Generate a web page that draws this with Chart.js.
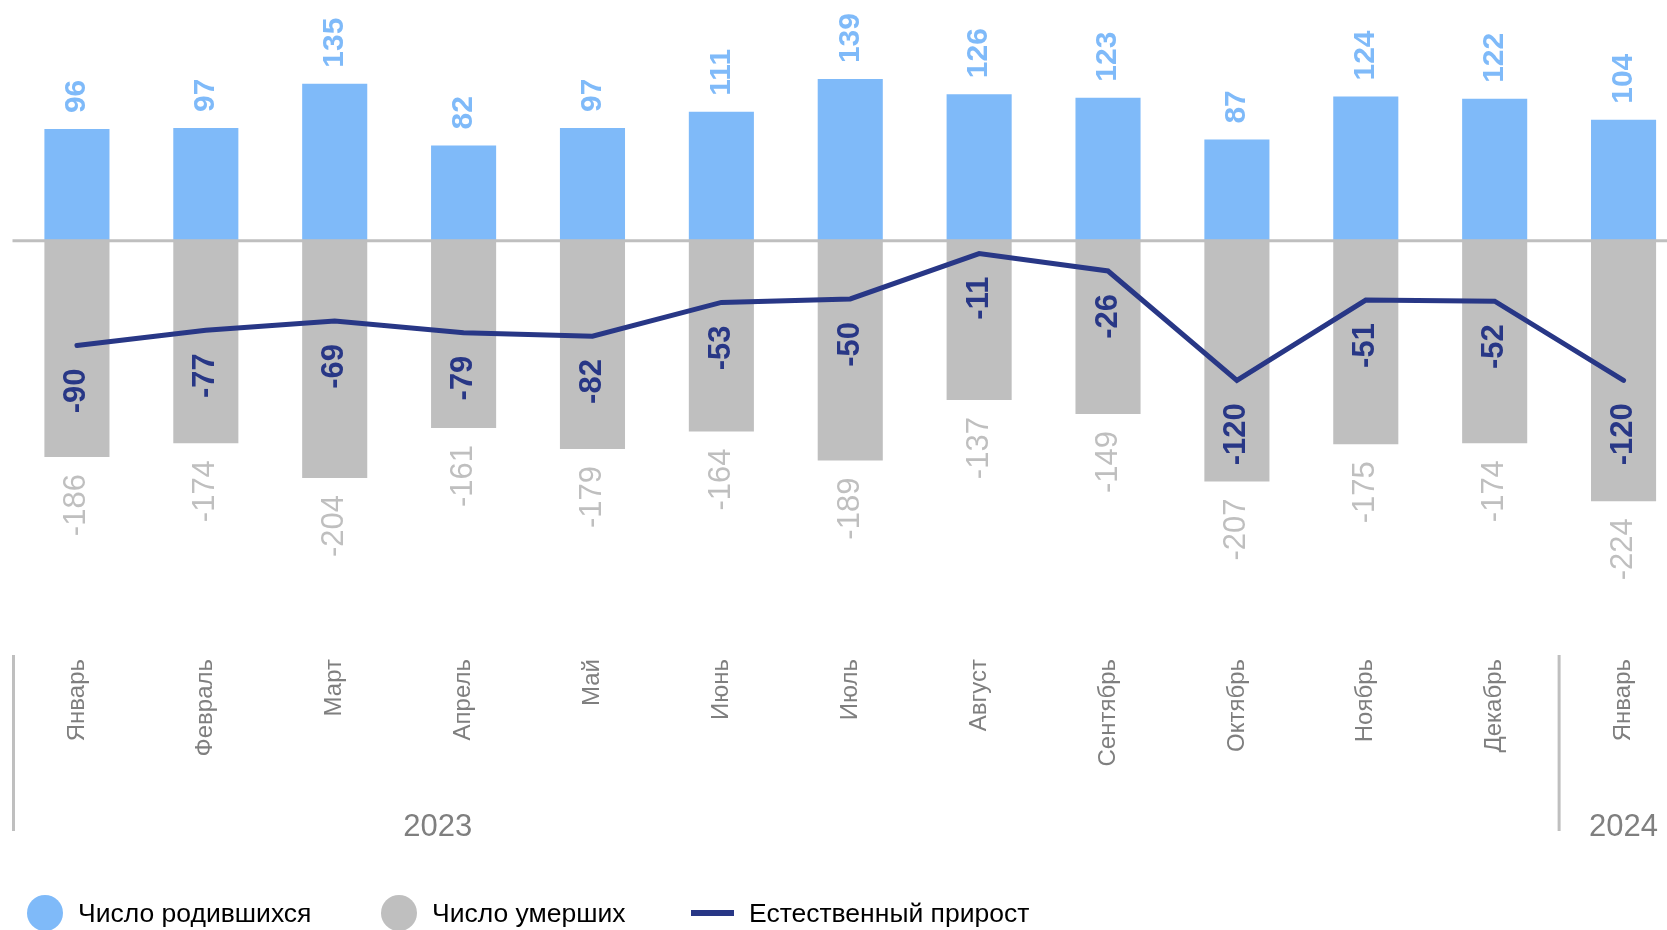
<!DOCTYPE html>
<html lang="ru">
<head>
<meta charset="utf-8">
<title>Естественное движение населения</title>
<script src="https://cdn.jsdelivr.net/npm/chart.js@4.4.1/dist/chart.umd.min.js"></script>
<style>
  html, body { margin: 0; padding: 0; background: #fff; overflow: hidden; }
  body { width: 1667px; height: 930px; position: relative; font-family: "Liberation Sans", Arial, sans-serif; }
  #wrap { position: absolute; left: 0; top: 0; width: 1688px; height: 930px; }
  .legend-item { position: absolute; top: 895px; height: 36px; display: flex; align-items: center; font-size: 26.5px; color: #000; white-space: nowrap; }
  .legend-item .dot { width: 36px; height: 36px; border-radius: 50%; margin-right: 15px; flex: none; }
  .legend-item .dash { width: 43px; height: 6px; margin-right: 15px; flex: none; }
</style>
</head>
<body>
<div id="wrap"><canvas id="popChart" width="1688" height="930"></canvas></div>
<div id="legend"></div>
<script>
const months = ['Январь', 'Февраль', 'Март', 'Апрель', 'Май', 'Июнь', 'Июль', 'Август', 'Сентябрь', 'Октябрь', 'Ноябрь', 'Декабрь', 'Январь'];
const years = ['2023', '2024'];
const yearStarts = [0, 12];
const births = [96, 97, 135, 82, 97, 111, 139, 126, 123, 87, 124, 122, 104];
const deaths = [-186, -174, -204, -161, -179, -164, -189, -137, -149, -207, -175, -174, -224];
const growth = [-90, -77, -69, -79, -82, -53, -50, -11, -26, -120, -51, -52, -120];
const seriesNames = ['Число родившихся', 'Число умерших', 'Естественный прирост'];

const BLUE = '#7fbaf9';
const GREY = '#bfbfbf';
const NAVY = '#283786';
const TEXT_GREY = '#7f7f7f';
const FONT = '"Liberation Sans", Arial, sans-serif';

// подписи, повёрнутые на 90°
function drawUp(ctx, text, x, y, color, font, align) {
  ctx.save();
  ctx.translate(x, y);
  ctx.rotate(-Math.PI / 2);
  ctx.font = font;
  ctx.fillStyle = color;
  ctx.textAlign = align;
  ctx.textBaseline = 'middle';
  ctx.fillText(text, 0, 0);
  ctx.restore();
}

const valueLabels = {
  id: 'valueLabels',
  afterDatasetsDraw(chart) {
    const ctx = chart.ctx;
    const area = chart.chartArea;
    const y0 = chart.scales.y.getPixelForValue(0);

    // нулевая линия
    ctx.save();
    ctx.strokeStyle = GREY;
    ctx.lineWidth = 3;
    ctx.beginPath();
    ctx.moveTo(area.left, y0);
    ctx.lineTo(area.right, y0);
    ctx.stroke();
    ctx.restore();

    chart.getDatasetMeta(0).data.forEach((bar, i) =>
      drawUp(ctx, String(births[i]), bar.x, bar.y - 16, BLUE, 'bold 30px ' + FONT, 'left'));
    chart.getDatasetMeta(1).data.forEach((bar, i) =>
      drawUp(ctx, String(deaths[i]), bar.x, bar.y + 17, GREY, '31px ' + FONT, 'right'));
    chart.getDatasetMeta(2).data.forEach((pt, i) =>
      drawUp(ctx, String(growth[i]), pt.x, pt.y + 23, NAVY, 'bold 31px ' + FONT, 'right'));
  },
  afterDraw(chart) {
    const ctx = chart.ctx;
    const x = chart.scales.x;
    const bottom = chart.chartArea.bottom;
    const step = x.getPixelForValue(1) - x.getPixelForValue(0);

    // разделители годов
    ctx.save();
    ctx.strokeStyle = GREY;
    ctx.lineWidth = 3;
    yearStarts.forEach(idx => {
      const sx = Math.max(x.getPixelForValue(idx) - step / 2, chart.chartArea.left + 1);
      ctx.beginPath();
      ctx.moveTo(sx, bottom + 6);
      ctx.lineTo(sx, bottom + 182);
      ctx.stroke();
    });

    // подписи годов
    ctx.font = '31px ' + FONT;
    ctx.fillStyle = TEXT_GREY;
    ctx.textAlign = 'center';
    ctx.textBaseline = 'middle';
    ctx.fillText(years[0], x.getPixelForValue(2) + step * 0.8, bottom + 178);
    ctx.fillText(years[1], x.getPixelForValue(yearStarts[1]), bottom + 178);
    ctx.restore();
  }
};

new Chart(document.getElementById('popChart').getContext('2d'), {
  type: 'bar',
  data: {
    labels: months,
    datasets: [
      {
        label: seriesNames[0],
        data: births,
        backgroundColor: BLUE,
        barPercentage: 0.505,
        categoryPercentage: 1,
        order: 2
      },
      {
        label: seriesNames[1],
        data: deaths,
        backgroundColor: GREY,
        barPercentage: 0.505,
        categoryPercentage: 1,
        order: 2
      },
      {
        type: 'line',
        label: seriesNames[2],
        data: growth,
        borderColor: NAVY,
        borderWidth: 5,
        borderCapStyle: 'round',
        pointRadius: 0,
        tension: 0,
        order: 1
      }
    ]
  },
  options: {
    responsive: false,
    animation: false,
    devicePixelRatio: 1,
    layout: { padding: { left: 12.5, right: 0, top: 0, bottom: 161 } },
    plugins: {
      legend: { display: false },
      tooltip: { enabled: false }
    },
    scales: {
      x: {
        stacked: true,
        grid: { display: false, drawTicks: false },
        border: { display: false },
        ticks: {
          color: TEXT_GREY,
          font: { family: FONT, size: 24 },
          minRotation: 90,
          maxRotation: 90,
          autoSkip: false,
          padding: 10
        },
        afterFit: scale => { scale.height = 120; }
      },
      y: {
        display: false,
        min: -351,
        max: 207
      }
    }
  },
  plugins: [valueLabels]
});

// легенда
const legendEl = document.getElementById('legend');
const legendSpec = [
  { left: 27, marker: 'dot', color: BLUE },
  { left: 381, marker: 'dot', color: GREY },
  { left: 691, marker: 'dash', color: NAVY }
];
legendSpec.forEach((item, i) => {
  const div = document.createElement('div');
  div.className = 'legend-item';
  div.style.left = item.left + 'px';
  div.innerHTML = `<span class="${item.marker}" style="background:${item.color}"></span><span>${seriesNames[i]}</span>`;
  legendEl.appendChild(div);
});
</script>
</body>
</html>
